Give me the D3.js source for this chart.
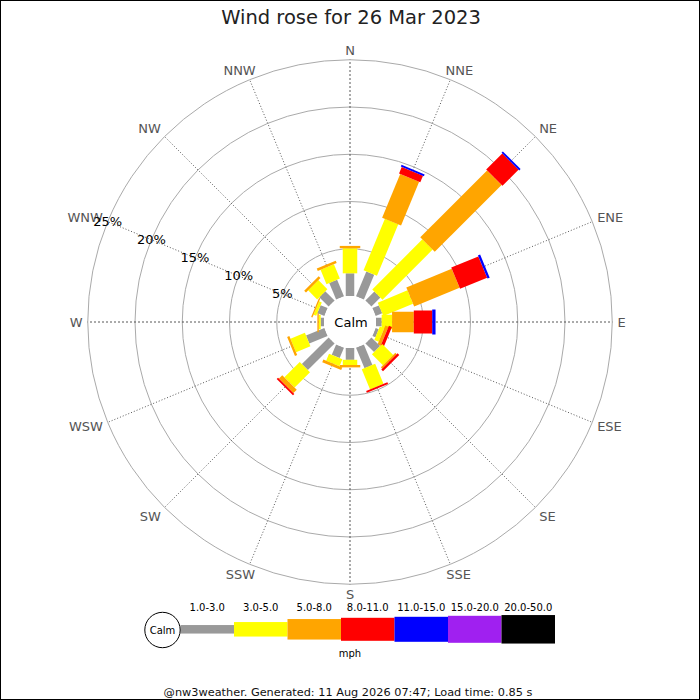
<!DOCTYPE html>
<html lang="en">
<head>
  <meta charset="UTF-8">
  <title>Wind rose for 26 Mar 2023</title>
  <script src="https://d3js.org/d3.v7.min.js"></script>
  <style>
    body { margin: 0; background: #fff; }
    svg { display: block; font-family: "DejaVu Sans", sans-serif; }
  </style>
</head>
<body>
  <div id="chart"></div>

  <script>
    // Directions (clockwise from N) and speed bands (mph)
    const directions = ["N", "NNE", "NE", "ENE", "E", "ESE", "SE", "SSE",
                        "S", "SSW", "SW", "WSW", "W", "WNW", "NW", "NNW"];
    const speedBands = ["1.0-3.0", "3.0-5.0", "5.0-8.0", "8.0-11.0",
                        "11.0-15.0", "15.0-20.0", "20.0-50.0"];

    // % of time per direction, one array per speed band
    const band1to3   = [2.4, 2.85, 1.35, 0.75, 0.6, 0.35, 1.3, 2.35, 1.25, 1.2, 4.0, 2.1, 0.35, 0.8, 1.4, 1.9];
    const band3to5   = [2.65, 5.9, 7.5, 3.4, 1.1, 0.5, 1.65, 2.3, 0.55, 0.8, 2.3, 1.65, 0.2, 0.3, 1.35, 1.65];
    const band5to8   = [0.25, 5.0, 10.0, 5.2, 2.3, 0.35, 0.2, 0, 0.25, 0.3, 0.5, 0.25, 0.15, 0.15, 0.27, 0.27];
    const band8to11  = [0, 0.75, 2.4, 3.1, 1.95, 0.35, 0.25, 0.2, 0, 0, 0.2, 0, 0, 0, 0, 0];
    const band11to15 = [0, 0.2, 0.2, 0.25, 0.35, 0, 0, 0, 0, 0, 0, 0, 0, 0, 0, 0];
    const band15to20 = [0, 0, 0, 0, 0, 0, 0, 0, 0, 0, 0, 0, 0, 0, 0, 0];
    const band20to50 = [0, 0, 0, 0, 0, 0, 0, 0, 0, 0, 0, 0, 0, 0, 0, 0];

    const ringTicks = [5, 10, 15, 20, 25];

    // styling
    const bandColors = ["#999999", "#ffff00", "#ffa500", "#ff0000", "#0000ff", "#a020f0", "#000000"];
    const bandWidths = [8.5, 14.5, 20.5, 23, 25, 27, 28.5];

    const bands = [band1to3, band3to5, band5to8, band8to11, band11to15, band15to20, band20to50];

    const W = 700, H = 700;
    const cx = 350, cy = 322;
    const calmR = 26;

    const svg = d3.select("#chart").append("svg")
      .attr("width", W)
      .attr("height", H);

    svg.append("rect")
      .attr("x", 0.5).attr("y", 0.5)
      .attr("width", W - 1).attr("height", H - 1)
      .attr("fill", "#fff")
      .attr("stroke", "#000");

    svg.append("text")
      .attr("x", 351).attr("y", 24)
      .attr("text-anchor", "middle")
      .attr("font-size", 19.5)
      .attr("fill", "#222")
      .text("Wind rose for 26 Mar 2023");

    const r = d3.scaleLinear().domain([0, 25]).range([calmR, calmR + 25 * 9.45]);
    const angle = d3.scaleLinear().domain([0, directions.length]).range([0, 360]);

    const plot = svg.append("g").attr("transform", `translate(${cx},${cy})`);

    const unit = i => {
      const a = angle(i) * Math.PI / 180;
      return [Math.sin(a), -Math.cos(a)];
    };

    // rings
    plot.selectAll("circle.ring")
      .data(ringTicks)
      .join("circle")
      .attr("class", "ring")
      .attr("r", d => r(d))
      .attr("fill", "none")
      .attr("stroke", "#aaa")
      .attr("stroke-width", 1);

    // spokes
    plot.selectAll("line.spoke")
      .data(directions)
      .join("line")
      .attr("class", "spoke")
      .attr("x1", (d, i) => unit(i)[0] * calmR)
      .attr("y1", (d, i) => unit(i)[1] * calmR)
      .attr("x2", (d, i) => unit(i)[0] * r(25))
      .attr("y2", (d, i) => unit(i)[1] * r(25))
      .attr("stroke", "#444")
      .attr("stroke-width", 0.9)
      .attr("stroke-dasharray", (d, i) => i % 4 === 0 ? "2,2" : "1,2");

    // compass labels: box corner slides round the circle
    const labelR = 267.5, capH = 9.5;
    const PI = Math.PI;
    plot.selectAll("text.dir")
      .data(directions)
      .join("text")
      .attr("class", "dir")
      .attr("font-size", 13)
      .attr("fill", "#555")
      .text(d => d)
      .each(function (d, i) {
        const w = this.getComputedTextLength();
        let a = (90 - angle(i)) * PI / 180;
        a = (a + 2 * PI) % (2 * PI);
        let fx = 0, fy = 0;
        if (a >= 7 * PI / 4 || a <= PI / 4) fx = 0;
        if (a >= PI / 4 && a <= 3 * PI / 4) fx = (a - PI / 4) * 2 / PI;
        if (a >= 3 * PI / 4 && a <= 5 * PI / 4) fx = 1;
        if (a >= 5 * PI / 4 && a <= 7 * PI / 4) fx = 1 - (a - 5 * PI / 4) * 2 / PI;
        if (a >= 7 * PI / 4) fy = (a - 7 * PI / 4) * 2 / PI;
        if (a <= PI / 4) fy = 0.5 + a * 2 / PI;
        if (a >= PI / 4 && a <= 3 * PI / 4) fy = 1;
        if (a >= 3 * PI / 4 && a <= 5 * PI / 4) fy = 1 - (a - 3 * PI / 4) * 2 / PI;
        if (a >= 5 * PI / 4 && a <= 7 * PI / 4) fy = 0;
        const [ux, uy] = unit(i);
        const left = ux * labelR - fx * w;
        const top = uy * labelR - fy * capH;
        d3.select(this).attr("x", left).attr("y", top + capH);
      });

    // stacked bars
    directions.forEach((dir, i) => {
      const g = plot.append("g").attr("transform", `rotate(${angle(i)})`);
      let cum = 0;
      bands.forEach((series, b) => {
        const v = series[i];
        if (v <= 0) return;
        const r0 = r(cum), r1 = r(cum + v);
        cum += v;
        g.append("rect")
          .attr("x", -bandWidths[b] / 2)
          .attr("y", -r1)
          .attr("width", bandWidths[b])
          .attr("height", r1 - r0)
          .attr("fill", bandColors[b]);
      });
    });

    // calm circle
    plot.append("circle").attr("r", calmR).attr("fill", "#fff");
    plot.append("text")
      .attr("x", 1).attr("y", 0)
      .attr("text-anchor", "middle")
      .attr("dominant-baseline", "central")
      .attr("font-size", 13)
      .text("Calm");

    // ring labels along WNW
    const wnw = unit(directions.indexOf("WNW"));
    plot.selectAll("text.ringlabel")
      .data(ringTicks)
      .join("text")
      .attr("class", "ringlabel")
      .attr("x", d => wnw[0] * r(d))
      .attr("y", d => wnw[1] * r(d))
      .attr("text-anchor", "middle")
      .attr("dominant-baseline", "central")
      .attr("font-size", 13)
      .attr("fill", "#000")
      .text(d => d + "%");

    // legend
    const lx = d3.scaleBand().domain(speedBands).range([180.5, 555]);
    const ly = 629.3;
    const legend = svg.append("g");

    legend.selectAll("rect")
      .data(speedBands)
      .join("rect")
      .attr("x", d => lx(d))
      .attr("y", (d, i) => ly - bandWidths[i] / 2)
      .attr("width", lx.bandwidth())
      .attr("height", (d, i) => bandWidths[i])
      .attr("fill", (d, i) => bandColors[i]);

    legend.selectAll("text.band")
      .data(speedBands)
      .join("text")
      .attr("class", "band")
      .attr("x", d => lx(d) + lx.bandwidth() / 2)
      .attr("y", 607.5)
      .attr("text-anchor", "middle")
      .attr("dominant-baseline", "central")
      .attr("font-size", 10)
      .text(d => d);

    legend.append("circle")
      .attr("cx", 162.5).attr("cy", 630).attr("r", 17.7)
      .attr("fill", "#fff").attr("stroke", "#000");
    legend.append("text")
      .attr("x", 162.5).attr("y", 630)
      .attr("text-anchor", "middle")
      .attr("dominant-baseline", "central")
      .attr("font-size", 10)
      .text("Calm");

    legend.append("text")
      .attr("x", 350).attr("y", 653.5)
      .attr("text-anchor", "middle")
      .attr("dominant-baseline", "central")
      .attr("font-size", 10)
      .text("mph");

    svg.append("text")
      .attr("x", 348).attr("y", 692)
      .attr("text-anchor", "middle")
      .attr("dominant-baseline", "central")
      .attr("font-size", 11.3)
      .attr("fill", "#111")
      .text("@nw3weather. Generated: 11 Aug 2026 07:47; Load time: 0.85 s");
  </script>
</body>
</html>
